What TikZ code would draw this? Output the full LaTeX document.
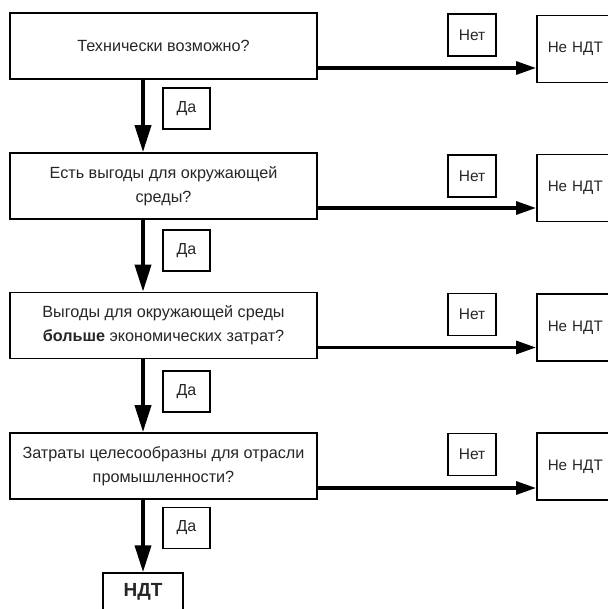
\documentclass[tikz,border=0pt]{standalone}
\usepackage{fontspec}
\setmainfont{Liberation Sans}
\usetikzlibrary{arrows.meta,positioning}

\begin{document}
\begin{tikzpicture}[x=1pt,y=-1pt,
  every node/.style={align=center,text=black!85},
  qbox/.style={draw=black,line width=1.7pt,minimum width=307pt,minimum height=66pt,
    font=\fontsize{16.2}{24}\selectfont},
  yesbox/.style={draw=black,line width=1.1pt,minimum width=47pt,minimum height=41pt,
    font=\fontsize{16}{18}\selectfont},
  nobox/.style={draw=black,line width=1.1pt,minimum width=48pt,minimum height=42pt,
    font=\fontsize{15.5}{18}\selectfont},
  notbox/.style={draw=black,line width=1.5pt,anchor=west,minimum height=67pt,text width=80pt,
    align=left,inner xsep=11pt,font=\fontsize{15.2}{18}\selectfont},
  downarr/.style={line width=3.8pt,-{Triangle[length=27pt,width=16pt]}},
  rightarr/.style={line width=3.2pt,-{Triangle[length=20pt,width=13pt]}}]
\useasboundingbox (0,0) rectangle (607,609);

% questions
\node[qbox] (q1) at (163.5,46) {Технически возможно?};
\node[qbox] (q2) at (163.5,186) {Есть выгоды для окружающей\\среды?};
\node[qbox] (q3) at (163.5,325.5) {Выгоды для окружающей среды\\\textbf{больше} экономических затрат?};
\node[qbox] (q4) at (163.5,466) {Затраты целесообразны для отрасли\\промышленности?};
\node[draw=black,line width=1.5pt,minimum width=80pt,minimum height=38pt,
  font=\fontsize{19}{22}\selectfont\bfseries] (bat) at (143,592) {НДТ};

% yes labels
\node[yesbox] (y1) at (186.5,108.5) {Да};
\node[yesbox] (y2) at (186.5,250.5) {Да};
\node[yesbox] (y3) at (186.5,391.5) {Да};
\node[yesbox] (y4) at (186.5,528) {Да};

% no labels and outcomes
\node[nobox] (n1) at (472,35) {Нет};
\node[nobox] (n2) at (472,176) {Нет};
\node[nobox] (n3) at (472,314.5) {Нет};
\node[nobox] (n4) at (472,454.5) {Нет};
\node[notbox] (o1) at (536,49) {Не НДТ};
\node[notbox] (o2) at (536,188) {Не НДТ};
\node[notbox] (o3) at (536,327.5) {Не НДТ};
\node[notbox] (o4) at (536,466.5) {Не НДТ};

% flow
\draw[downarr] ([xshift=-20.5pt]q1.south) -- ([xshift=-20.5pt]q1.south |- q2.north);
\draw[downarr] ([xshift=-20.5pt]q2.south) -- ([xshift=-20.5pt]q2.south |- q3.north);
\draw[downarr] ([xshift=-20.5pt]q3.south) -- ([xshift=-20.5pt]q3.south |- q4.north);
\draw[downarr] ([xshift=-20.5pt]q4.south) -- (bat.north);
\draw[rightarr] ([yshift=-22pt]q1.east) -- ([yshift=-22pt]q1.east -| o1.west);
\draw[rightarr] ([yshift=-22pt]q2.east) -- ([yshift=-22pt]q2.east -| o2.west);
\draw[rightarr] ([yshift=-22pt]q3.east) -- ([yshift=-22pt]q3.east -| o3.west);
\draw[rightarr] ([yshift=-22pt]q4.east) -- ([yshift=-22pt]q4.east -| o4.west);
\end{tikzpicture}
\end{document}
